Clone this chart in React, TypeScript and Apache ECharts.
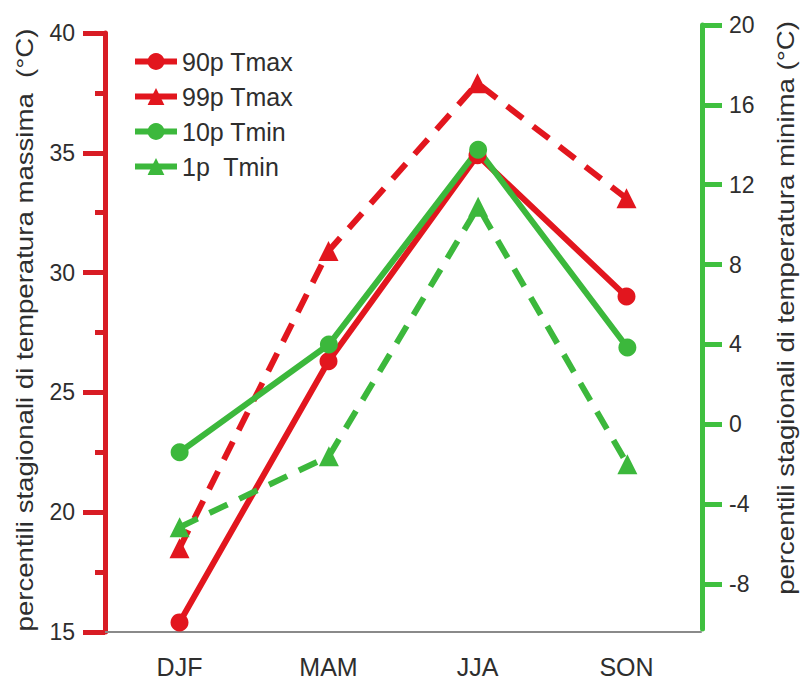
import React, { useEffect, useRef } from "react";
import * as echarts from "echarts";

const seasons = ["DJF", "MAM", "JJA", "SON"];
const tmax90 = [15.4, 26.3, 34.9, 29.0];
const tmax99 = [18.5, 30.9, 37.9, 33.1];
const tmin10 = [-1.4, 4.0, 13.75, 3.85];
const tmin1 = [-5.15, -1.6, 10.9, -2.0];
const rightTicks = [-8, -4, 0, 4, 8, 12, 16, 20];
const seriesNames = ["90p Tmax", "99p Tmax", "10p Tmin", "1p  Tmin"];
const leftTitle = "percentili stagionali di temperatura massima  (°C)";
const rightTitle = "percentili stagionali di temperatura minima (°C)";

const RED = "#e2161e";
const RED_AXIS = "#d81c24";
const GREEN = "#3cb83c";
const GREEN_AXIS = "#3fc03f";
const TXT = "#2e2e2e";
const FONT = "'Liberation Sans', Arial, sans-serif";

export default function App() {
  const ref = useRef<HTMLDivElement>(null);
  useEffect(() => {
    if (!ref.current) return;
    const chart = echarts.init(ref.current, undefined, { renderer: "svg" });
    chart.setOption({
      animation: false,
      backgroundColor: "#ffffff",
      textStyle: { fontFamily: FONT },
      grid: [
        { left: 105, right: 100, top: 33, bottom: 54 },
        { left: 105, right: 99, top: 25, bottom: 57 },
      ],
      legend: {
        orient: "vertical",
        left: 127,
        top: 44,
        itemWidth: 42,
        itemHeight: 21,
        itemGap: 10,
        data: seriesNames,
        textStyle: { fontSize: 25, color: TXT, fontFamily: FONT },
        lineStyle: { type: "solid", width: 6 },
      },
      xAxis: [
        {
          type: "category",
          gridIndex: 0,
          data: seasons,
          boundaryGap: true,
          axisLine: { lineStyle: { color: "#8a8a8a", width: 2 } },
          axisTick: { alignWithLabel: true, length: 18, lineStyle: { color: "#8a8a8a", width: 2 } },
          axisLabel: { fontSize: 25, color: TXT, margin: 22, fontFamily: FONT },
        },
        {
          type: "category",
          gridIndex: 1,
          data: seasons,
          boundaryGap: true,
          show: false,
        },
      ],
      yAxis: [
        {
          type: "value",
          gridIndex: 0,
          min: 15,
          max: 40,
          interval: 5,
          position: "left",
          axisLine: { show: true, lineStyle: { color: RED_AXIS, width: 5 } },
          axisTick: { show: true, inside: false, length: 22, lineStyle: { color: RED_AXIS, width: 5 } },
          minorTick: { show: true, splitNumber: 2, length: 10, lineStyle: { color: RED_AXIS, width: 5 } },
          splitLine: { show: false },
          axisLabel: { fontSize: 23, color: TXT, margin: 30, fontFamily: FONT },
        },
        {
          type: "value",
          gridIndex: 1,
          min: -10.25,
          max: 20,
          position: "right",
          axisLine: { show: true, lineStyle: { color: GREEN_AXIS, width: 5 } },
          axisTick: {
            show: true,
            inside: false,
            length: 20,
            customValues: rightTicks,
            lineStyle: { color: GREEN_AXIS, width: 5 },
          },
          splitLine: { show: false },
          axisLabel: {
            fontSize: 23,
            color: TXT,
            margin: 27,
            fontFamily: FONT,
            customValues: rightTicks,
          },
        },
      ],
      graphic: [
        {
          type: "text",
          x: 25,
          y: 330,
          rotation: Math.PI / 2,
          scaleX: 1.2,
          style: {
            text: leftTitle,
            font: `23px ${FONT}`,
            fill: TXT,
            align: "center",
            verticalAlign: "middle",
          },
        },
        {
          type: "text",
          x: 786,
          y: 308,
          rotation: Math.PI / 2,
          scaleX: 1.2,
          style: {
            text: rightTitle,
            font: `23px ${FONT}`,
            fill: TXT,
            align: "center",
            verticalAlign: "middle",
          },
        },
      ],
      series: [
        {
          name: seriesNames[0],
          type: "line",
          xAxisIndex: 0,
          yAxisIndex: 0,
          data: tmax90,
          symbol: "circle",
          symbolSize: 18,
          itemStyle: { color: RED },
          lineStyle: { color: RED, width: 6 },
        },
        {
          name: seriesNames[1],
          type: "line",
          xAxisIndex: 0,
          yAxisIndex: 0,
          data: tmax99,
          symbol: "triangle",
          symbolSize: 20,
          itemStyle: { color: RED },
          lineStyle: { color: RED, width: 6, type: [20, 13] },
        },
        {
          name: seriesNames[2],
          type: "line",
          xAxisIndex: 1,
          yAxisIndex: 1,
          data: tmin10,
          symbol: "circle",
          symbolSize: 18,
          itemStyle: { color: GREEN },
          lineStyle: { color: GREEN, width: 6 },
        },
        {
          name: seriesNames[3],
          type: "line",
          xAxisIndex: 1,
          yAxisIndex: 1,
          data: tmin1,
          symbol: "triangle",
          symbolSize: 20,
          itemStyle: { color: GREEN },
          lineStyle: { color: GREEN, width: 6, type: [20, 13] },
        },
      ],
    });
    return () => chart.dispose();
  }, []);
  return (
    <div
      ref={ref}
      style={{ position: "fixed", left: 0, top: 0, width: 801, height: 686, background: "#fff" }}
    />
  );
}
